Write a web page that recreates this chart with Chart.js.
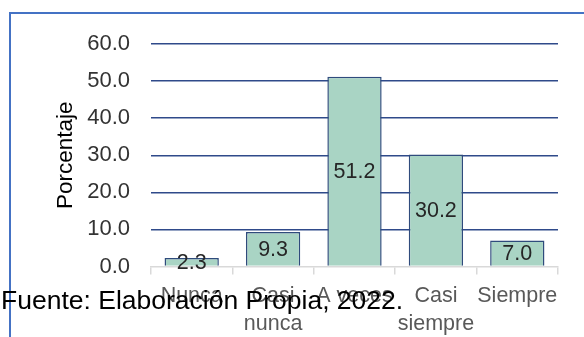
<!DOCTYPE html>
<html>
<head>
<meta charset="utf-8">
<style>
  html, body { margin: 0; padding: 0; background: #fff; }
  #wrap { width: 584px; height: 337px; position: relative; }
</style>
</head>
<body>
<div id="wrap"><canvas id="chart"></canvas></div>
<script src="https://cdn.jsdelivr.net/npm/chart.js@4/dist/chart.umd.min.js"></script>
<script>
// datos
var categorias = ["Nunca", ["Casi", "nunca"], "A veces", ["Casi", "siempre"], "Siempre"];
var porcentajes = [2.3, 9.3, 51.2, 30.2, 7.0];
var yTicks = [0, 10, 20, 30, 40, 50, 60];
var fuente = "Fuente: Elaboración Propia, 2022.";

var FONT = "'Liberation Sans', Arial, sans-serif";

// marco azul del grafico (detras de todo)
var marco = {
  id: 'marco',
  beforeDraw: function (chart) {
    var ctx = chart.ctx;
    ctx.save();
    ctx.strokeStyle = '#4472C4';
    ctx.lineWidth = 2;
    ctx.beginPath();
    ctx.moveTo(10, 340);
    ctx.lineTo(10, 13);
    ctx.lineTo(590, 13);
    ctx.stroke();
    ctx.restore();
  }
};

// etiquetas de valor centradas en cada barra
var etiquetas = {
  id: 'etiquetas',
  afterDatasetsDraw: function (chart) {
    var ctx = chart.ctx;
    var meta = chart.getDatasetMeta(0);
    ctx.save();
    ctx.font = '21.5px ' + FONT;
    ctx.fillStyle = '#262626';
    ctx.textAlign = 'center';
    ctx.textBaseline = 'middle';
    meta.data.forEach(function (bar, i) {
      var p = bar.getProps(['x', 'y', 'base'], true);
      ctx.fillText(porcentajes[i].toFixed(1), p.x, (p.y + p.base) / 2 + 1);
    });
    ctx.restore();
  }
};

// nota de fuente, encima de todo
var nota = {
  id: 'nota',
  afterDraw: function (chart) {
    var ctx = chart.ctx;
    ctx.save();
    ctx.font = '26.5px ' + FONT;
    ctx.fillStyle = '#000';
    ctx.textAlign = 'left';
    ctx.textBaseline = 'middle';
    ctx.fillText(fuente, 1, 302);
    ctx.restore();
  }
};

var ctx = document.getElementById('chart').getContext('2d');
new Chart(ctx, {
  type: 'bar',
  data: {
    labels: categorias,
    datasets: [{
      data: porcentajes,
      backgroundColor: '#A9D4C4',
      borderColor: '#2F4B7C',
      borderWidth: 1.5,
      barPercentage: 0.667,
      categoryPercentage: 1
    }]
  },
  options: {
    responsive: true,
    maintainAspectRatio: false,
    animation: false,
    layout: { padding: { left: 0, top: 44, right: 26, bottom: 0 } },
    plugins: { legend: { display: false }, tooltip: { enabled: false } },
    scales: {
      x: {
        grid: { drawOnChartArea: false, drawTicks: true, tickLength: 8, color: '#D9D9D9', lineWidth: 1.5 },
        border: { display: true, color: '#D9D9D9', width: 1.5 },
        ticks: {
          color: '#595959',
          font: { family: FONT, size: 21.5, lineHeight: 1.3 },
          padding: 8,
          maxRotation: 0,
          autoSkip: false
        },
        afterFit: function (s) { s.height = 70.5; }
      },
      y: {
        min: 0,
        max: 60,
        afterBuildTicks: function (s) { s.ticks = yTicks.map(function (v) { return { value: v }; }); },
        grid: {
          drawTicks: false,
          lineWidth: 1.5,
          color: function (c) { return c.tick && c.tick.value === 0 ? 'rgba(0,0,0,0)' : '#2F4A8A'; }
        },
        border: { display: false },
        ticks: {
          color: '#333333',
          font: { family: FONT, size: 22 },
          padding: 21,
          callback: function (v) { return Number(v).toFixed(1); }
        },
        title: {
          display: true,
          text: 'Porcentaje',
          color: '#000',
          font: { family: FONT, size: 22.5 },
          padding: { top: 52, bottom: 0 }
        },
        afterFit: function (s) { s.width = 151; }
      }
    }
  },
  plugins: [marco, etiquetas, nota]
});
</script>
</body>
</html>
